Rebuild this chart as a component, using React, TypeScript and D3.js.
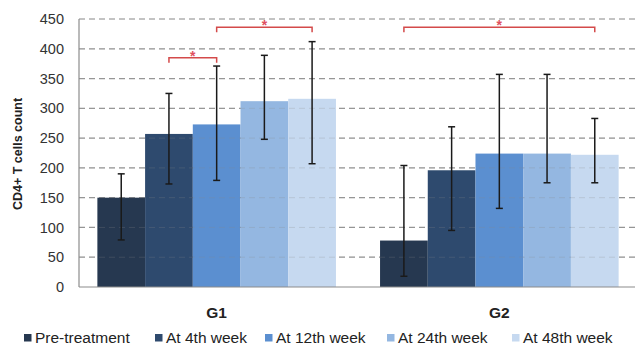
import React from 'react';
import * as d3 from 'd3';

const groups = ['G1', 'G2'];
const series = ['Pre-treatment', 'At 4th week', 'At 12th week', 'At 24th week', 'At 48th week'];
const colors = ['#263850', '#2e4a6e', '#5b8fd0', '#94b7e1', '#c6d9f0'];

// mean values per series, G1 then G2
const means = [
  [150, 78],
  [257, 196],
  [273, 224],
  [312, 224],
  [316, 222],
];
const errLow = [
  [79, 18],
  [173, 95],
  [179, 132],
  [248, 175],
  [207, 175],
];
const errHigh = [
  [190, 204],
  [325, 269],
  [371, 357],
  [389, 357],
  [412, 283],
];

// significance brackets: group, from series, to series, level
const brackets = [
  { group: 'G1', from: 1, to: 2, level: 385 },
  { group: 'G1', from: 2, to: 4, level: 436 },
  { group: 'G2', from: 0, to: 4, level: 436 },
];

const yTicks = [0, 50, 100, 150, 200, 250, 300, 350, 400, 450];

const W = 635;
const H = 346;
const margin = { top: 19, right: 0, bottom: 59, left: 79 };
const plotRight = 637;

export default function App() {
  const y = d3.scaleLinear().domain([0, 450]).range([H - margin.bottom, margin.top]);
  const x0 = d3
    .scaleBand()
    .domain(groups)
    .range([margin.left, plotRight])
    .paddingInner(0.156)
    .paddingOuter(0.065);
  const x1 = d3.scaleBand().domain(series).range([0, x0.bandwidth()]);

  const cx = (g: string, si: number) => (x0(g) as number) + (x1(series[si]) as number) + x1.bandwidth() / 2;

  const legendX = [24, 155, 265, 387, 512];
  const font = 'Arial, "Liberation Sans", sans-serif';

  return (
    <svg
      width={W}
      height={H}
      style={{ position: 'absolute', left: 0, top: 0, background: '#fff' }}
      fontFamily={font}
    >
      {/* grid behind bars */}
      {yTicks.filter((t) => t > 0).map((t) => (
        <line
          key={'g' + t}
          x1={margin.left}
          x2={W}
          y1={y(t)}
          y2={y(t)}
          stroke="#9a9a9a"
          strokeWidth={1.2}
          strokeDasharray="6,4"
        />
      ))}

      {/* bars */}
      {series.map((s, si) =>
        groups.map((g, gi) => (
          <rect
            key={s + g}
            x={(x0(g) as number) + (x1(s) as number)}
            y={y(means[si][gi])}
            width={x1.bandwidth()}
            height={y(0) - y(means[si][gi])}
            fill={colors[si]}
          />
        ))
      )}

      {/* faint grid over bars */}
      {yTicks.filter((t) => t > 0).map((t) => (
        <line
          key={'go' + t}
          x1={margin.left}
          x2={W}
          y1={y(t)}
          y2={y(t)}
          stroke="#8a8a8a"
          strokeOpacity={0.25}
          strokeWidth={1}
          strokeDasharray="6,4"
        />
      ))}

      {/* error bars */}
      {series.map((s, si) =>
        groups.map((g, gi) => {
          const c = cx(g, si);
          return (
            <g key={'e' + s + g} stroke="#1a1a1a" strokeWidth={1.5}>
              <line x1={c} x2={c} y1={y(errHigh[si][gi])} y2={y(errLow[si][gi])} />
              <line x1={c - 3.5} x2={c + 3.5} y1={y(errHigh[si][gi])} y2={y(errHigh[si][gi])} />
              <line x1={c - 3.5} x2={c + 3.5} y1={y(errLow[si][gi])} y2={y(errLow[si][gi])} />
            </g>
          );
        })
      )}

      {/* axes */}
      <line x1={margin.left} x2={margin.left} y1={y(450)} y2={y(0)} stroke="#8c8c8c" strokeWidth={1.2} />
      <line x1={margin.left} x2={W} y1={y(0)} y2={y(0)} stroke="#8c8c8c" strokeWidth={1.2} />
      {yTicks.map((t) => (
        <text
          key={'t' + t}
          x={64}
          y={y(t)}
          dy="0.35em"
          textAnchor="end"
          fontSize={14.5}
          fill="#333"
        >
          {t}
        </text>
      ))}
      <text
        transform={`translate(18,${(y(0) + y(450)) / 2 + 1}) rotate(-90)`}
        textAnchor="middle"
        dy="0.35em"
        fontSize={12.5}
        fontWeight="bold"
        fill="#222"
      >
        CD4+ T cells count
      </text>
      {groups.map((g) => (
        <text
          key={'x' + g}
          x={(x0(g) as number) + x0.bandwidth() / 2}
          y={318}
          textAnchor="middle"
          fontSize={15.5}
          fontWeight="bold"
          fill="#222"
        >
          {g}
        </text>
      ))}

      {/* significance brackets */}
      {brackets.map((b, i) => {
        const a = cx(b.group, b.from);
        const e = cx(b.group, b.to);
        const yy = y(b.level);
        return (
          <g key={'b' + i}>
            <path
              d={`M${a},${yy + 5}V${yy}H${e}V${yy + 5}`}
              fill="none"
              stroke="#d44a4a"
              strokeWidth={1.5}
            />
            <text x={(a + e) / 2} y={yy + 3} textAnchor="middle" fontSize={14} fontWeight="bold" fill="#e05060">
              *
            </text>
          </g>
        );
      })}

      {/* legend */}
      {series.map((s, si) => (
        <g key={'l' + s}>
          <rect x={legendX[si]} y={334} width={7.5} height={7.5} fill={colors[si]} />
          <text x={legendX[si] + 11} y={338} dy="0.35em" fontSize={15.5} fill="#222">
            {s}
          </text>
        </g>
      ))}
    </svg>
  );
}
